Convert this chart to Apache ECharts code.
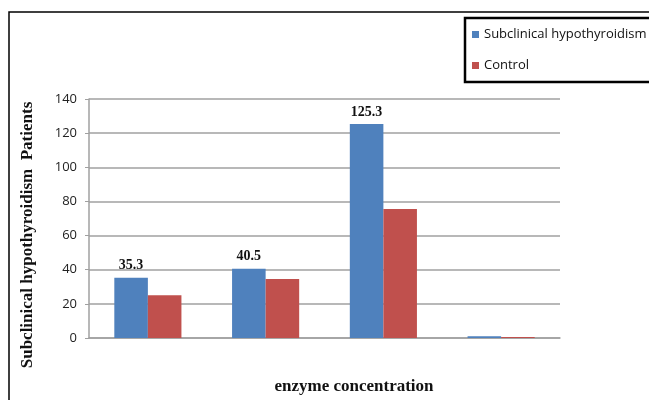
<!DOCTYPE html>
<html>
<head>
<meta charset="utf-8">
<script src="https://cdn.jsdelivr.net/npm/echarts@6/dist/echarts.min.js"></script>
<style>
  html, body { margin: 0; padding: 0; background: #fff; }
  #chart { width: 649px; height: 400px; }
</style>
</head>
<body>
<div id="chart"></div>
<script>
// Four enzyme-concentration groups (unlabelled on the axis)
const categories = ['G1', 'G2', 'G3', 'G4'];
const seriesNames = ['Subclinical hypothyroidism', 'Control'];
const patientValues = [35.3, 40.5, 125.3, 1];
const controlValues = [25, 34.5, 75.5, 0.6];
// Which patient bars carry a value label
const showPatientLabel = [true, true, true, false];
const yTicks = { min: 0, max: 140, interval: 20 };

const chart = echarts.init(document.getElementById('chart'), null, { renderer: 'canvas' });

const serif = '"Liberation Serif", "Times New Roman", serif';
const sans = '"Open Sans", "Liberation Sans", sans-serif';

chart.setOption({
  animation: false,
  backgroundColor: '#fff',
  grid: { left: 89, right: 89, top: 99, bottom: 62, containLabel: false },
  legend: {
    orient: 'vertical',
    left: 472,
    top: 28,
    padding: 0,
    itemGap: 18,
    itemWidth: 7,
    itemHeight: 7,
    icon: 'rect',
    textStyle: { fontFamily: sans, fontSize: 13, color: '#111' },
    data: seriesNames
  },
  xAxis: {
    type: 'category',
    data: categories,
    axisLine: { show: true, lineStyle: { color: '#a0a0a0', width: 1.5 } },
    axisTick: { show: false },
    axisLabel: { show: false },
    splitLine: { show: false }
  },
  yAxis: {
    type: 'value',
    min: yTicks.min,
    max: yTicks.max,
    interval: yTicks.interval,
    axisLine: { show: true, lineStyle: { color: '#a0a0a0', width: 1.5 } },
    axisTick: { show: true, length: 4, lineStyle: { color: '#a0a0a0' } },
    axisLabel: { fontFamily: sans, fontSize: 13, color: '#222', margin: 12 },
    splitLine: { show: true, lineStyle: { color: '#a0a0a0', width: 1.5 } }
  },
  series: [
    {
      name: seriesNames[0],
      type: 'bar',
      barGap: '0%',
      barCategoryGap: '43%',
      itemStyle: { color: '#4F81BD' },
      data: patientValues.map((v, i) => ({
        value: v,
        label: { show: showPatientLabel[i] }
      })),
      label: {
        position: 'top',
        distance: 5,
        fontFamily: serif,
        fontWeight: 'bold',
        fontSize: 14,
        color: '#111',
        formatter: p => p.value.toFixed(1)
      }
    },
    {
      name: seriesNames[1],
      type: 'bar',
      barGap: '0%',
      barCategoryGap: '43%',
      itemStyle: { color: '#C0504D' },
      data: controlValues
    }
  ],
  graphic: [
    // outer frame
    {
      type: 'rect',
      shape: { x: 9, y: 12, width: 700, height: 500 },
      style: { fill: 'none', stroke: '#000', lineWidth: 1.5 },
      silent: true
    },
    // legend box
    {
      type: 'rect',
      shape: { x: 465, y: 18, width: 220, height: 64 },
      style: { fill: 'none', stroke: '#000', lineWidth: 2.5 },
      silent: true
    },
    {
      type: 'text',
      x: 28,
      y: 235,
      rotation: Math.PI / 2,
      style: {
        text: 'Subclinical hypothyroidism  Patients',
        font: 'bold 17px ' + serif,
        fill: '#111',
        textAlign: 'center',
        textVerticalAlign: 'middle'
      }
    },
    {
      type: 'text',
      x: 354,
      y: 387,
      style: {
        text: 'enzyme concentration',
        font: 'bold 17px ' + serif,
        fill: '#111',
        textAlign: 'center',
        textVerticalAlign: 'middle'
      }
    }
  ]
});
</script>
</body>
</html>
